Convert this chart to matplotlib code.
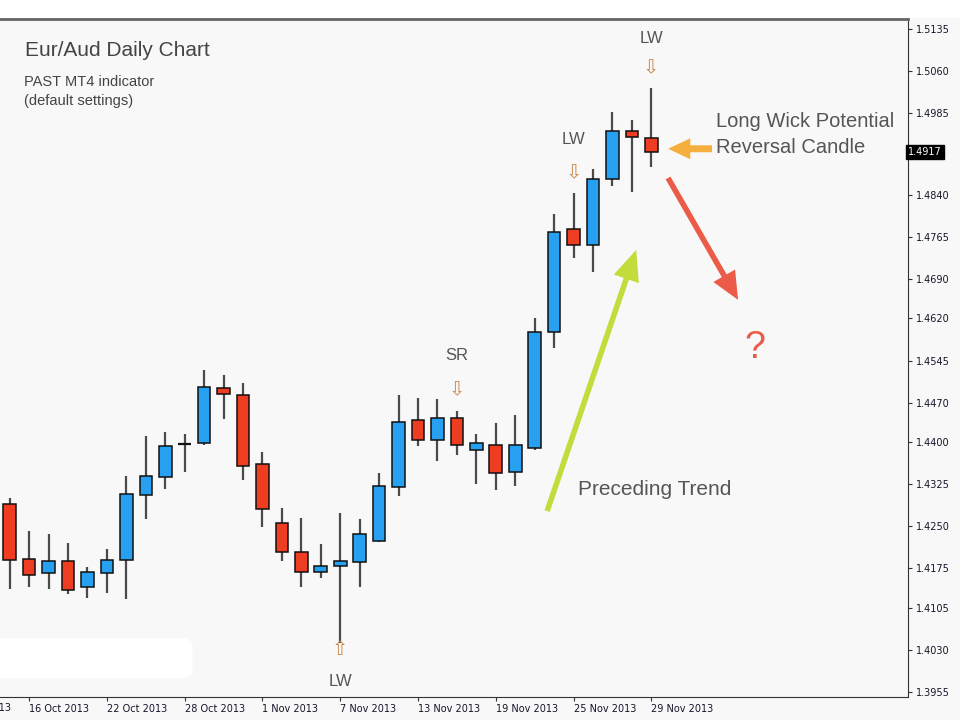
import matplotlib
matplotlib.use("Agg")
import matplotlib.pyplot as plt
import matplotlib.patches as mpatches
import numpy as np

plt.rcParams['font.family'] = ['Liberation Sans', 'DejaVu Sans']

# daily EUR/AUD candles, 15 Oct 2013 .. 29 Nov 2013
opens = [1.4289, 1.4192, 1.4166, 1.4188, 1.4142, 1.4166, 1.4190, 1.4306, 1.4337, 1.4396,
         1.4399, 1.4496, 1.4483, 1.4360, 1.4255, 1.4205, 1.4169, 1.4180, 1.4187, 1.4224,
         1.4320, 1.4440, 1.4403, 1.4443, 1.4386, 1.4395, 1.4347, 1.4390, 1.4595, 1.4779,
         1.4751, 1.4868, 1.4954, 1.4941]
highs = [1.4301, 1.4241, 1.4236, 1.4221, 1.4178, 1.4210, 1.4339, 1.4411, 1.4418, 1.4415,
         1.4529, 1.4520, 1.4505, 1.4383, 1.4283, 1.4264, 1.4219, 1.4273, 1.4262, 1.4344,
         1.4483, 1.4478, 1.4476, 1.4455, 1.4415, 1.4434, 1.4448, 1.4621, 1.4806, 1.4843,
         1.4886, 1.4987, 1.4973, 1.5030]
lows = [1.4139, 1.4142, 1.4138, 1.4129, 1.4122, 1.4131, 1.4120, 1.4262, 1.4316, 1.4347,
        1.4394, 1.4441, 1.4332, 1.4248, 1.4188, 1.4142, 1.4157, 1.4043, 1.4142, 1.4222,
        1.4304, 1.4392, 1.4366, 1.4377, 1.4326, 1.4314, 1.4321, 1.4386, 1.4567, 1.4728,
        1.4703, 1.4855, 1.4845, 1.4890]
closes = [1.4190, 1.4164, 1.4188, 1.4136, 1.4169, 1.4190, 1.4307, 1.4339, 1.4393, 1.4396,
          1.4497, 1.4485, 1.4358, 1.4280, 1.4205, 1.4169, 1.4179, 1.4188, 1.4236, 1.4322,
          1.4436, 1.4403, 1.4443, 1.4395, 1.4398, 1.4345, 1.4394, 1.4596, 1.4773, 1.4751,
          1.4868, 1.4954, 1.4943, 1.4917]

date_ticks = [1, 5, 9, 13, 17, 21, 25, 29, 33]
date_labels = ['16 Oct 2013', '22 Oct 2013', '28 Oct 2013', '1 Nov 2013',
               '7 Nov 2013', '13 Nov 2013', '19 Nov 2013', '25 Nov 2013', '29 Nov 2013']
prev_tick, prev_label = -3, '10 Oct 2013'
price_ticks = [1.5135, 1.5060, 1.4985, 1.4840, 1.4765, 1.4690, 1.4620, 1.4545, 1.4470,
               1.4400, 1.4325, 1.4250, 1.4175, 1.4105, 1.4030, 1.3955]
last_price = 1.4917

BLUE = '#27a0f2'
RED = '#ef3d22'

fig = plt.figure(figsize=(9.6, 7.2), dpi=100, facecolor='#f8f8f8')
# white strip at the top
fig.patches.append(mpatches.Rectangle((0, 1 - 18 / 720), 1, 18 / 720, transform=fig.transFigure,
                                      facecolor='white', edgecolor='none', zorder=0))
ax = fig.add_axes([0, 1 - 697 / 720, 908 / 960, 678 / 720])
ax.set_facecolor('#f8f8f8')

x = np.arange(len(opens))
o = np.array(opens)
c = np.array(closes)

ax.vlines(x, lows, highs, color='#4a4a4a', lw=1.6, zorder=2)
up = c > o
dn = c < o
doji = c == o
ax.bar(x[up], (c - o)[up], bottom=o[up], width=0.65, color=BLUE, edgecolor='#111111',
       linewidth=1.1, zorder=3)
ax.bar(x[dn], (o - c)[dn], bottom=c[dn], width=0.65, color=RED, edgecolor='#111111',
       linewidth=1.1, zorder=3)
ax.hlines(o[doji], x[doji] - 0.33, x[doji] + 0.33, color='#111111', lw=1.6, zorder=3)

# frame
ax.spines['left'].set_visible(False)
ax.spines['top'].set_color('#666666')
ax.spines['top'].set_linewidth(2)
ax.spines['right'].set_color('#333333')
ax.spines['bottom'].set_color('#333333')

ax.yaxis.tick_right()
ax.set_yticks(price_ticks)
ax.set_yticklabels(['%.4f' % p for p in price_ticks])
ax.tick_params(axis='y', length=3, width=0.8, color='#333333', pad=3,
               labelsize=7, labelcolor='#15152a')
ax.set_xticks(date_ticks)
ax.set_xticklabels(date_labels, ha='left')
ax.tick_params(axis='x', length=3, width=0.8, color='#333333', pad=2,
               labelsize=7, labelcolor='#15152a')
for lab in ax.get_xticklabels() + ax.get_yticklabels():
    lab.set_fontfamily('DejaVu Sans')

ax.set_xlim(-0.5, 46.2)
ax.set_ylim(1.3946, 1.5153)

# label of the tick just left of the visible range (only its tail shows)
ax.annotate(prev_label, xy=(prev_tick, 0), xycoords=ax.get_xaxis_transform(),
            xytext=(0, -4.5), textcoords='offset points', ha='left', va='top',
            fontsize=7, color='#15152a', family='DejaVu Sans', annotation_clip=False)

ax.text(1.0, last_price, '%.4f' % last_price, transform=ax.get_yaxis_transform(),
        ha='left', va='center', fontsize=7, color='white', family='DejaVu Sans',
        bbox=dict(boxstyle='square,pad=0.2', facecolor='black', edgecolor='black'),
        clip_on=False, zorder=5)

# erased watermark patch at bottom left
ax.add_patch(mpatches.FancyBboxPatch((0.0, 0.04), 0.2, 0.035, boxstyle='round,pad=0.012',
                                     transform=ax.transAxes, facecolor='white',
                                     edgecolor='none', zorder=1))

# headings
fig.text(25 / 960, 1 - 51 / 720, 'Eur/Aud Daily Chart', fontsize=15, color='#444444',
         va='center', ha='left')
fig.text(24 / 960, 1 - 82 / 720, 'PAST MT4 indicator', fontsize=10.5, color='#444444',
         va='center', ha='left')
fig.text(24 / 960, 1 - 101 / 720, '(default settings)', fontsize=10.5, color='#444444',
         va='center', ha='left')

# pattern markers
ARROW_C = '#c98a52'
markers = [(33, 1.5119, 1.5066, 'LW', '\u21e9'),
           (29, 1.4938, 1.4879, 'LW', '\u21e9'),
           (23, 1.4554, 1.4493, 'SR', '\u21e9'),
           (17, 1.3973, 1.4031, 'LW', '\u21e7')]
for bi, ty, ay, label, sym in markers:
    ax.text(bi, ty, label, ha='center', va='center', fontsize=12, color='#555555', zorder=4)
    ax.text(bi, ay, sym, ha='center', va='center', fontsize=14, color=ARROW_C,
            family='DejaVu Sans', zorder=4)

# commentary
ax.text(36.33, 1.4970, 'Long Wick Potential', fontsize=14.5, color='#555555',
        ha='left', va='center', zorder=4)
ax.text(36.33, 1.4924, 'Reversal Candle', fontsize=14.5, color='#555555',
        ha='left', va='center', zorder=4)
ax.text(29.23, 1.4316, 'Preceding Trend', fontsize=15, color='#555555',
        ha='left', va='center', zorder=4)
ax.text(38.34, 1.4568, '?', fontsize=27, color='#ec5a48', ha='center', va='center', zorder=4)

def draw_arrow(start, end, color, hl, hw, tw):
    ax.annotate('', xy=end, xytext=start,
                arrowprops=dict(arrowstyle=mpatches.ArrowStyle.Simple(head_length=hl, head_width=hw,
                                                                      tail_width=tw),
                                mutation_scale=20, color=color, shrinkA=0, shrinkB=0,
                                lw=0), zorder=4)

draw_arrow((27.64, 1.4277), (32.22, 1.4742), '#c3dc3c', 1.1, 0.95, 0.2)
draw_arrow((33.86, 1.4870), (37.46, 1.4653), '#ec5a48', 1.0, 0.9, 0.2)
draw_arrow((36.12, 1.4922), (33.86, 1.4922), '#f6ae3c', 0.8, 0.75, 0.25)

fig.savefig('out.png', dpi=100, facecolor=fig.get_facecolor())
